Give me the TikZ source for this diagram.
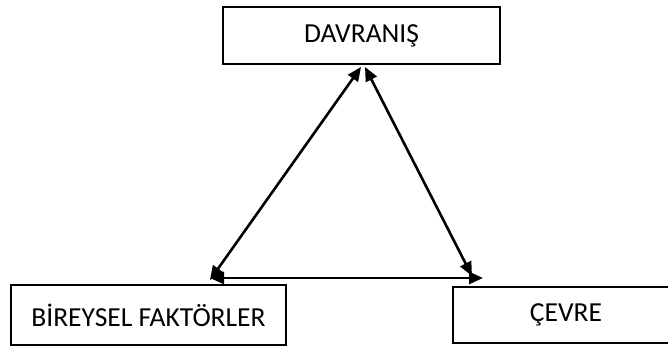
\documentclass[tikz,border=0pt]{standalone}
\usepackage{fontspec}
\setmainfont{Carlito}
\usetikzlibrary{arrows.meta}
\begin{document}
\begin{tikzpicture}[x=1pt,y=1pt,
  box/.style={draw=black,line width=2pt,rectangle,inner sep=0pt,font=\fontsize{27.5}{31}\selectfont},
  link/.style={line width=2.6pt,{Triangle[length=14pt,width=12pt]}-{Triangle[length=14pt,width=12pt]}}]
\clip (0,0) rectangle (668,347);
\fill[white] (0,0) rectangle (668,347);
\node[box,minimum width=277pt,minimum height=57pt] (dav) at (361.5,311.5) {DAVRANIŞ};
\node[box,minimum width=275pt,minimum height=60pt] (bir) at (148.5,32) {BİREYSEL FAKTÖRLER};
\node[box,minimum width=226pt,minimum height=56pt] (cev) at (566,32) {ÇEVRE};
\coordinate (t1) at (361,280);
\coordinate (t2) at (365,280);
\coordinate (l1) at (210,67);
\coordinate (r1) at (472,71);
\coordinate (l2) at (210,69);
\coordinate (r2) at (483,69);
\draw[link] (t1) -- (l1);
\draw[link] (t2) -- (r1);
\draw[link] (l2) -- (r2);
\end{tikzpicture}
\end{document}
